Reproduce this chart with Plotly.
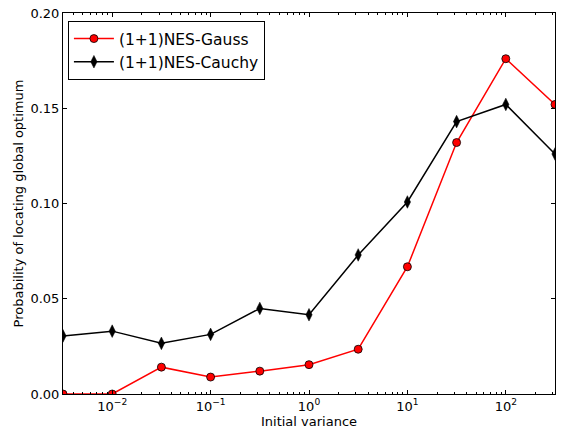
import plotly.graph_objects as go

variance = [10**-2.5, 1e-2, 10**-1.5, 1e-1, 10**-0.5, 1e0, 10**0.5, 1e1, 10**1.5, 1e2, 10**2.5]
gauss = [0.0, 0.0, 0.0141, 0.0089, 0.0120, 0.0154, 0.0235, 0.0668, 0.1320, 0.1760, 0.1520]
cauchy = [0.0305, 0.0330, 0.0266, 0.0313, 0.0449, 0.0416, 0.0730, 0.1008, 0.1430, 0.1520, 0.1260]
x_ticks = [1e-2, 1e-1, 1e0, 1e1, 1e2]
x_labels = ["10<sup>−2</sup>", "10<sup>−1</sup>", "10<sup>0</sup>", "10<sup>1</sup>", "10<sup>2</sup>"]
y_ticks = [0.0, 0.05, 0.10, 0.15, 0.20]
y_labels = ["0.00", "0.05", "0.10", "0.15", "0.20"]

fig = go.Figure()
fig.add_trace(go.Scatter(
    x=variance, y=gauss, mode="lines+markers", name="(1+1)NES-Gauss",
    line=dict(color="red", width=1.5),
    marker=dict(symbol="circle", size=8, color="red", line=dict(color="black", width=0.8)),
    cliponaxis=True,
))
fig.add_trace(go.Scatter(
    x=variance, y=cauchy, mode="lines+markers", name="(1+1)NES-Cauchy",
    line=dict(color="black", width=1.5),
    marker=dict(symbol="diamond-tall", size=9, color="black", line=dict(color="black", width=0.5)),
    cliponaxis=True,
))

axis_common = dict(
    showline=True, linecolor="black", linewidth=1, mirror="ticks",
    ticks="inside", ticklen=4, tickcolor="black", showgrid=False, zeroline=False,
    tickfont=dict(family="DejaVu Sans", size=13, color="black"),
)
fig.update_xaxes(
    type="log", range=[-2.5, 2.5], tickvals=x_ticks, ticktext=x_labels,
    title=dict(text="Initial variance", font=dict(family="DejaVu Sans", size=13, color="black"), standoff=4),
    minor=dict(ticks="inside", ticklen=2, tickcolor="black", showgrid=False, dtick="D1"),
    **axis_common,
)
fig.update_yaxes(
    range=[0, 0.2], tickvals=y_ticks, ticktext=y_labels,
    title=dict(text="Probability of locating global optimum", font=dict(family="DejaVu Sans", size=13, color="black"), standoff=3),
    **axis_common,
)
fig.update_layout(
    width=562, height=434,
    margin=dict(l=63, r=6, t=11, b=40),
    paper_bgcolor="white", plot_bgcolor="white",
    font=dict(family="DejaVu Sans", color="black"),
    legend=dict(
        x=0.01, y=0.979, xanchor="left", yanchor="top",
        bgcolor="white", bordercolor="black", borderwidth=1,
        font=dict(family="DejaVu Sans", size=15.5, color="black"),
        itemwidth=40, tracegroupgap=0,
    ),
    showlegend=True,
)
fig.write_html("out.html", config={"displayModeBar": False},
               post_script="document.body.style.margin='0';document.body.style.overflow='hidden';")
